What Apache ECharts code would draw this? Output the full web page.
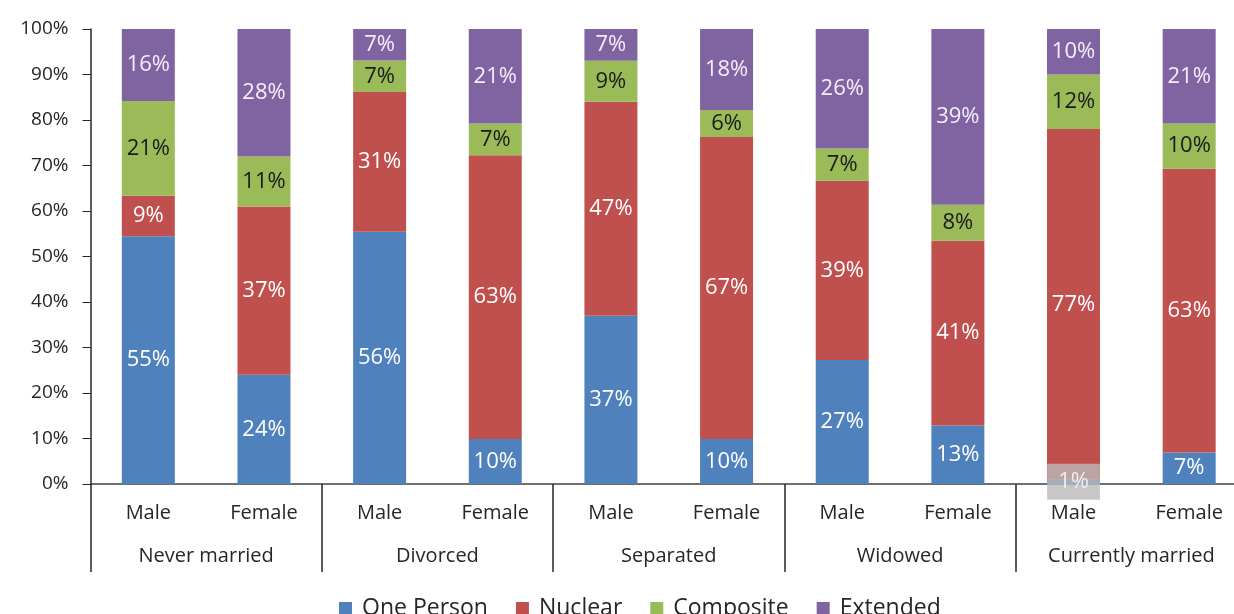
<!DOCTYPE html>
<html>
<head>
<meta charset="utf-8">
<script src="https://cdn.jsdelivr.net/npm/echarts@6/dist/echarts.min.js"></script>
<style>
html,body{margin:0;padding:0;background:#fff;overflow:hidden;width:1234px;height:614px;}
#c{width:1247px;height:614px;}
</style>
</head>
<body>
<div id="c"></div>
<script>
const sexes = ['Male','Female','Male','Female','Male','Female','Male','Female','Male','Female'];
const groups = ['Never married','Divorced','Separated','Widowed','Currently married'];
const seriesNames = ['One Person','Nuclear','Composite','Extended'];
const onePerson = [55, 24, 56, 10, 37, 10, 27, 13, 1, 7];
const nuclear   = [9, 37, 31, 63, 47, 67, 39, 41, 77, 63];
const composite = [21, 11, 7, 7, 9, 6, 7, 8, 12, 10];
const extended  = [16, 28, 7, 21, 7, 18, 26, 39, 10, 21];
const colors = ['#4F81BD','#C0504D','#9BBB59','#8064A2'];
const labelColors = ['#ffffff','#ffffff','#1a1a1a','#f4eefa'];

const raw = [onePerson, nuclear, composite, extended];
const totals = sexes.map((_, i) => raw.reduce((s, arr) => s + arr[i], 0));
const FONT = 'Open Sans';

const series = raw.map((arr, si) => ({
  name: seriesNames[si],
  type: 'bar',
  stack: 'all',
  barWidth: 53,
  itemStyle: { color: colors[si] },
  label: {
    show: true,
    position: 'inside',
    color: labelColors[si],
    fontFamily: FONT,
    fontSize: 22,
    formatter: p => p.data.raw + '%'
  },
  data: arr.map((v, i) => {
    const item = { value: v / totals[i] * 100, raw: v };
    if (si === 0 && i === 8) {
      item.label = {
        backgroundColor: 'rgba(185,185,185,0.8)',
        padding: [7, 11],
        color: '#eeeeee'
      };
    }
    return item;
  })
}));

const chart = echarts.init(document.getElementById('c'));
chart.setOption({
  animation: false,
  backgroundColor: '#ffffff',
  textStyle: { fontFamily: FONT },
  grid: { left: 90.5, right: 0, top: 29, bottom: 130, containLabel: false },
  legend: {
    data: seriesNames,
    left: 334,
    top: 592,
    icon: 'rect',
    itemWidth: 13,
    itemHeight: 13,
    itemGap: 28,
    textStyle: { fontFamily: FONT, fontSize: 23, color: '#262626', padding: [0, 0, 0, 5] }
  },
  xAxis: [
    {
      type: 'category',
      data: sexes,
      axisLine: { show: true, lineStyle: { color: '#404040', width: 1.5 } },
      axisTick: { show: false },
      axisLabel: { margin: 19, fontFamily: FONT, fontSize: 20, color: '#262626', interval: 0 }
    },
    {
      type: 'category',
      data: groups,
      position: 'bottom',
      axisLine: { show: false },
      axisTick: { show: true, length: 88, lineStyle: { color: '#262626', width: 1.5 } },
      axisLabel: { margin: 62, fontFamily: FONT, fontSize: 20, color: '#262626', interval: 0 }
    }
  ],
  yAxis: {
    type: 'value',
    min: 0,
    max: 100,
    interval: 10,
    axisLine: { show: true, lineStyle: { color: '#262626', width: 1.5 } },
    axisTick: { show: true, length: 8, lineStyle: { color: '#262626' } },
    splitLine: { show: false },
    axisLabel: { formatter: '{value}%', margin: 22, fontFamily: FONT, fontSize: 19, color: '#262626' }
  },
  series: series
});
</script>
</body>
</html>
